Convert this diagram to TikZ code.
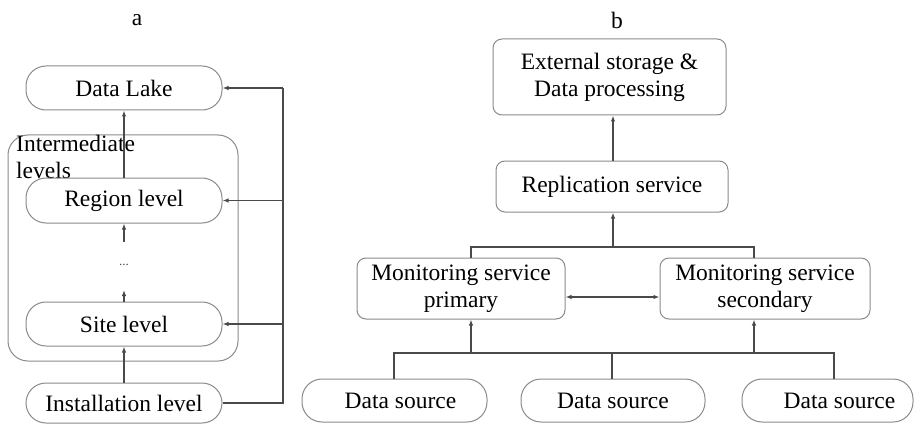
\documentclass[tikz,border=0pt]{standalone}
\usepackage{fontspec}
\setmainfont{Liberation Serif}
\usetikzlibrary{arrows.meta,calc}
\definecolor{boxgray}{HTML}{8A8A8A}
\definecolor{linegray}{HTML}{4A4A4A}
\begin{document}
\begin{tikzpicture}[x=1pt,y=-1pt,
  font=\fontsize{23.5}{27}\selectfont,
  pill/.style={draw=boxgray,line width=1pt,rounded corners=20pt,inner sep=0pt,align=center},
  rbox/.style={draw=boxgray,line width=1pt,rounded corners=9pt,inner sep=0pt,align=center},
  conn/.style={draw=linegray,line width=1.2pt},
  arr/.style={conn,-{Latex[length=6pt,width=4.5pt]}},
  darr/.style={conn,{Latex[length=6pt,width=4.5pt]}-{Latex[length=6pt,width=4.5pt]}}]
\useasboundingbox (0,0) rectangle (915,425);

% ---------- panel a ----------
\node (la) at (137,20) {a};
\node[pill,minimum width=230pt,minimum height=226pt] (inter) at (123,248) {};
\node[anchor=north west,inner sep=0pt,align=left] (interlbl) at (16,135) {Intermediate\\levels};
\node[pill,minimum width=196pt,minimum height=44pt] (lake) at (124,88) {Data Lake};
\node[pill,minimum width=196pt,minimum height=45pt] (region) at (124,200.5) {Region level};
\node[inner sep=0pt,font=\fontsize{13}{14}\selectfont,text=linegray] (dots) at (124,265) {...};
\node[pill,minimum width=196pt,minimum height=44pt] (site) at (124,324) {Site level};
\node[pill,minimum width=196pt,minimum height=40pt] (inst) at (124,403) {Installation level};

\coordinate (dlow) at (124,290);
\coordinate (dhigh) at (124,242);
\coordinate (fb0) at (283,403);
\coordinate (fb1) at (283,324);
\coordinate (fb2) at (283,200.5);
\coordinate (fb3) at (283,88);

\draw[arr] (inst.north) -- (site.south);
\draw[arr] (site.north) -- (dlow);
\draw[arr] (dhigh) -- (region.south);
\draw[arr] (region.north) -- (lake.south);
\draw[conn] (inst.east) -- (fb0) -- (fb3);
\draw[arr] (fb3) -- (lake.east);
\draw[arr] (fb2) -- (region.east);
\draw[arr] (fb1) -- (site.east);

% ---------- panel b ----------
\node (lb) at (617,20) {b};
\node[rbox,minimum width=233pt,minimum height=76pt] (ext) at (609.5,77) {External storage \&\\Data processing};
\node[rbox,minimum width=232pt,minimum height=51pt] (rep) at (612,186.5) {Replication service};
\node[rbox,minimum width=208pt,minimum height=61pt] (prim) at (461,288.5) {Monitoring service\\primary};
\node[rbox,minimum width=210pt,minimum height=61pt] (sec) at (765,288.5) {Monitoring service\\secondary};
\node[pill,minimum width=185pt,minimum height=43pt] (ds1) at (394.5,400.5) {\hspace*{12pt}Data source};
\node[pill,minimum width=184pt,minimum height=43pt] (ds2) at (613,400.5) {Data source};
\node[pill,minimum width=171pt,minimum height=43pt] (ds3) at (827.5,400.5) {\hspace*{24pt}Data source};

\coordinate (t0) at (613,247);
\coordinate (t1) at (471,247);
\coordinate (t2) at (754,247);
\coordinate (m0) at (0,297);
\coordinate (b1) at (394,353);
\coordinate (b2) at (471,353);
\coordinate (b3) at (612,353);
\coordinate (b4) at (754,353);
\coordinate (b5) at (834,353);

\draw[arr] (rep.north -| t0) -- (ext.south -| t0);
\draw[arr] (t0) -- (rep.south -| t0);
\draw[conn] (t1 |- prim.north) -- (t1) -- (t2) -- (t2 |- sec.north);
\draw[darr] (prim.east |- m0) -- (sec.west |- m0);
\draw[conn] (b1 |- ds1.north) -- (b1) -- (b5) -- (b5 |- ds3.north);
\draw[conn] (b3) -- (b3 |- ds2.north);
\draw[arr] (b2) -- (b2 |- prim.south);
\draw[arr] (b4) -- (b4 |- sec.south);
\end{tikzpicture}
\end{document}
